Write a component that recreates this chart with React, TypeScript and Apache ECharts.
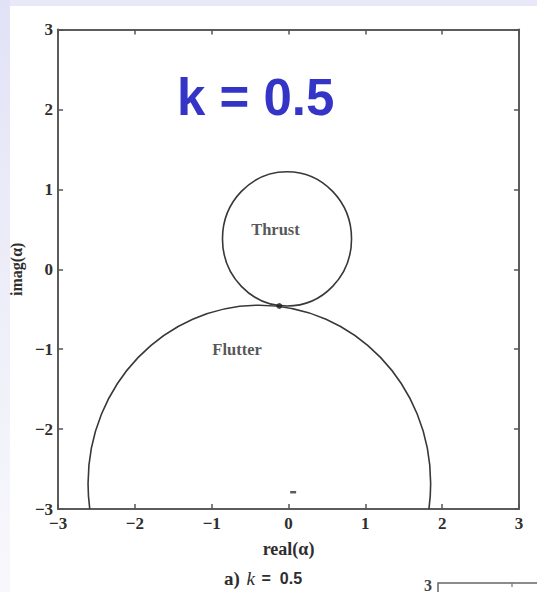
import React, { useEffect, useRef } from "react";
import * as echarts from "echarts";

// Axis range and ticks (both axes share them)
const axisMin = -3;
const axisMax = 3;
const tickStep = 1;

// Stability boundaries: [centerReal, centerImag, radius]
const thrustCircle = [-0.02, 0.38, 0.84];
const flutterCircle = [-0.38, -2.68, 2.23];

// Touching point of the two boundaries and the small mark near the bottom
const contactPoint = [-0.12, -0.46];
const bottomMark = [0.06, -2.79];

// Region names placed inside the plot
const regionNames = ["Thrust", "Flutter"];
const regionReal = [-0.17, -0.67];
const regionImag = [0.5, -1.0];

const serif = "'Liberation Serif', 'Times New Roman', serif";
const minusFmt = (v: number) => (v < 0 ? "\u2212" + Math.abs(v) : String(v));

export default function App() {
  const ref = useRef<HTMLDivElement>(null);

  useEffect(() => {
    if (!ref.current) return;
    const chart = echarts.init(ref.current, undefined, { renderer: "svg" });

    const axisLine = { onZero: false, lineStyle: { color: "#5c5c5c", width: 2 } };
    const axisTick = { inside: true, length: 5, lineStyle: { color: "#555", width: 1.5 } };
    const labelStyle = {
      fontFamily: serif,
      fontSize: 17,
      fontWeight: "bold" as const,
      color: "#2e2e2e",
    };

    const circleSeries = (circ: number[]) => ({
      type: "custom" as const,
      silent: true,
      clip: true,
      data: [circ],
      renderItem: (_p: any, api: any) => {
        const c = api.coord([api.value(0), api.value(1)]);
        const s = api.size([api.value(2), api.value(2)]);
        return {
          type: "ellipse",
          shape: { cx: c[0], cy: c[1], rx: s[0], ry: s[1] },
          style: { fill: "none", stroke: "#383838", lineWidth: 1.6 },
        };
      },
      z: 3,
    });

    chart.setOption({
      animation: false,
      backgroundColor: "#ffffff",
      grid: { left: 57.5, right: 18, top: 29.5, bottom: 83 },
      xAxis: [
        {
          type: "value",
          position: "bottom",
          min: axisMin,
          max: axisMax,
          interval: tickStep,
          axisLine,
          axisTick,
          splitLine: { show: false },
          axisLabel: { ...labelStyle, margin: 6, formatter: minusFmt },
          name: "real(\u03b1)",
          nameLocation: "middle",
          nameGap: 31,
          nameTextStyle: { fontFamily: serif, fontSize: 18, fontWeight: "bold", color: "#2e2e2e" },
        },
        {
          type: "value",
          position: "top",
          min: axisMin,
          max: axisMax,
          interval: tickStep,
          axisLine,
          axisTick,
          splitLine: { show: false },
          axisLabel: { show: false },
        },
      ],
      yAxis: [
        {
          type: "value",
          position: "left",
          min: axisMin,
          max: axisMax,
          interval: tickStep,
          axisLine,
          axisTick,
          splitLine: { show: false },
          axisLabel: { ...labelStyle, margin: 5, formatter: minusFmt },
          name: "imag(\u03b1)",
          nameLocation: "middle",
          nameGap: 32,
          nameRotate: 90,
          nameTextStyle: { fontFamily: serif, fontSize: 16, fontWeight: "bold", color: "#2e2e2e" },
        },
        {
          type: "value",
          position: "right",
          min: axisMin,
          max: axisMax,
          interval: tickStep,
          axisLine,
          axisTick,
          splitLine: { show: false },
          axisLabel: { show: false },
        },
      ],
      series: [
        circleSeries(thrustCircle),
        circleSeries(flutterCircle),
        {
          type: "scatter",
          silent: true,
          symbol: "circle",
          symbolSize: 6,
          itemStyle: { color: "#222" },
          data: [contactPoint],
          z: 4,
        },
        {
          type: "scatter",
          silent: true,
          symbol: "rect",
          symbolSize: [6, 2.5],
          itemStyle: { color: "#333" },
          data: [bottomMark],
          z: 4,
        },
        {
          type: "scatter",
          silent: true,
          symbolSize: 0,
          data: regionNames.map((n, i) => ({ name: n, value: [regionReal[i], regionImag[i]] })),
          label: {
            show: true,
            position: "inside",
            formatter: "{b}",
            fontFamily: serif,
            fontSize: 16.5,
            fontWeight: "bold",
            color: "#2a2a2a",
          },
          z: 5,
        },
      ],
      graphic: [
        {
          type: "rect",
          z: -10,
          shape: { x: 0, y: 0, width: 537, height: 6 },
          style: { fill: "#e8e8f8" },
        },
        {
          type: "rect",
          z: -10,
          shape: { x: 0, y: 0, width: 10, height: 592 },
          style: {
            fill: new echarts.graphic.LinearGradient(0, 0, 0, 1, [
              { offset: 0, color: "#e2e2f7" },
              { offset: 0.4, color: "#ececf9" },
              { offset: 1, color: "#f8f8fc" },
            ]),
          },
        },
        {
          type: "text",
          z: 10,
          left: 177,
          top: 72,
          style: {
            text: "k = 0.5",
            fontFamily: "'Liberation Sans', Arial, sans-serif",
            fontSize: 51,
            fontWeight: "bold",
            fill: "#3434c6",
          },
        },
        {
          type: "text",
          z: 10,
          left: 224,
          top: 569,
          style: {
            rich: {
              a: { fontFamily: serif, fontSize: 19, fontWeight: "bold", fill: "#2e2e2e" },
              k: { fontFamily: serif, fontSize: 19, fontStyle: "italic", fill: "#2e2e2e" },
              v: { fontFamily: "'Liberation Sans', Arial, sans-serif", fontSize: 16, fontWeight: "bold", fill: "#2e2e2e" },
            },
            text: "{a|a)}  {k|k}  {v|=  0.5}",
          },
        },
        {
          type: "text",
          z: 10,
          left: 424,
          top: 577,
          style: { text: "3", fontFamily: serif, fontSize: 16, fontWeight: "bold", fill: "#444" },
        },
        {
          type: "polyline",
          z: 10,
          shape: { points: [[438, 592], [438, 583], [537, 583]] },
          style: { stroke: "#666", lineWidth: 1.5, fill: "none" },
        },
        {
          type: "line",
          z: 10,
          shape: { x1: 512, y1: 583, x2: 512, y2: 587 },
          style: { stroke: "#777", lineWidth: 1.2 },
        },
      ],
    });

    return () => chart.dispose();
  }, []);

  return (
    <div
      ref={ref}
      style={{ position: "fixed", left: 0, top: 0, width: 537, height: 592 }}
    />
  );
}
